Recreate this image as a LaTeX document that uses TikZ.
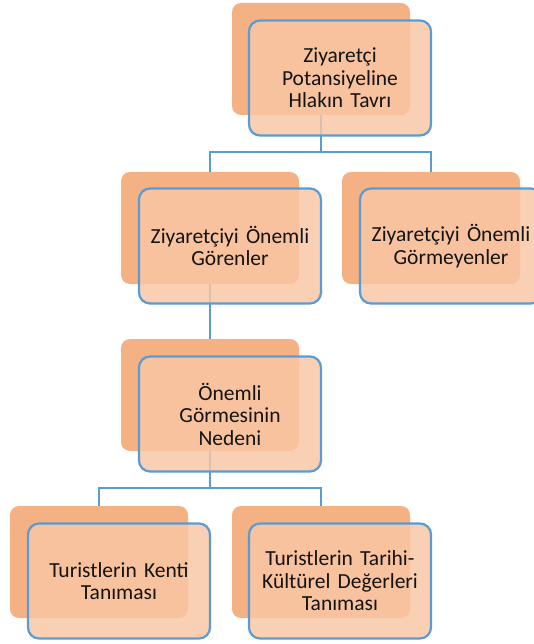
\documentclass[tikz,border=0pt]{standalone}
\usepackage{fontspec}
\setmainfont[WordSpace=0.7]{Carlito}
\usepackage{tikz}
\usetikzlibrary{positioning}
\usepackage{xcolor}
\definecolor{arka}{HTML}{F4B183}
\definecolor{on}{HTML}{F8C6A3}
\definecolor{mavi}{HTML}{5B9BD5}

\begin{document}
\begin{tikzpicture}[x=1pt, y=-1pt,
    arkakutu/.style={fill=arka, rounded corners=9pt, minimum width=178pt, minimum height=112pt, inner sep=0pt},
    onkutu/.style={draw=mavi, line width=2.2pt, fill=on, fill opacity=0.82, text opacity=1, rounded corners=11pt,
        minimum width=182pt, minimum height=115pt, text width=176pt, align=center, inner sep=0pt,
        font=\fontsize{21.5}{22.5}\selectfont, text=black!92},
    baglanti/.style={draw=mavi, line width=2pt}]
    \useasboundingbox (0,0) rectangle (534,644);
    \clip (0,0) rectangle (534,644);

    % Arka kutular
    \node[arkakutu] (tavirA) at (321,59) {};
    \node[arkakutu] (gorenA) at (210,228) {};
    \node[arkakutu] (gormeyenA) at (431,228) {};
    \node[arkakutu] (nedenA) at (210,395) {};
    \node[arkakutu] (kentA) at (99,562) {};
    \node[arkakutu] (degerA) at (321,562) {};

    % Baglantilar
    \draw[baglanti] (tavirA.south) -- ++(0,37) -| (gorenA.north);
    \draw[baglanti] (tavirA.south) -- ++(0,37) -| (gormeyenA.north);
    \draw[baglanti] (gorenA.south) -- (nedenA.north);
    \draw[baglanti] (nedenA.south) -- ++(0,37) -| (kentA.north);
    \draw[baglanti] (nedenA.south) -- ++(0,37) -| (degerA.north);

    % On kutular
    \node[onkutu] (tavir) at (340,78) {Ziyaretçi\\Potansiyeline\\Hlakın Tavrı};
    \node[onkutu] (goren) at (230,246) {Ziyaretçiyi Önemli\\Görenler};
    \node[onkutu] (gormeyen) at (451,246) {Ziyaretçiyi Önemli\\Görmeyenler};
    \node[onkutu] (neden) at (230,414) {Önemli\\Görmesinin\\Nedeni};
    \node[onkutu] (kent) at (119,581) {Turistlerin Kenti\\Tanıması};
    \node[onkutu] (deger) at (340,581) {Turistlerin Tarihi-\\Kültürel Değerleri\\Tanıması};
\end{tikzpicture}
\end{document}
